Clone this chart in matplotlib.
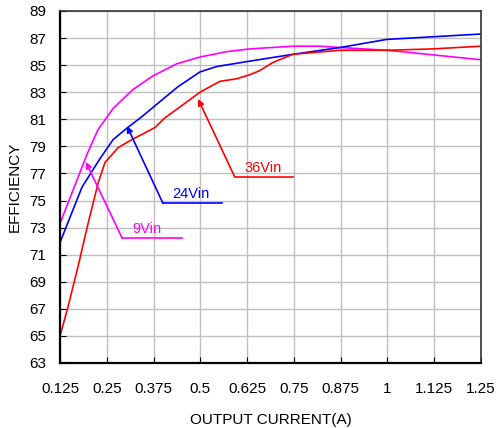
import numpy as np
import matplotlib
matplotlib.use('Agg')
import matplotlib.pyplot as plt

plt.rcParams['font.family'] = ['Liberation Sans', 'DejaVu Sans']

# 9Vin
x9 = [0.125, 0.197, 0.226, 0.245, 0.267, 0.320, 0.373, 0.437, 0.499, 0.571, 0.633, 0.747, 0.819, 0.875, 1.0, 1.25]
y9 = [73.3, 78.4, 80.2, 80.95, 81.8, 83.2, 84.2, 85.1, 85.6, 86.0, 86.2, 86.4, 86.4, 86.3, 86.1, 85.4]

# 24Vin
x24 = [0.125, 0.184, 0.232, 0.267, 0.304, 0.344, 0.405, 0.440, 0.499, 0.544, 0.633, 0.747, 0.873, 0.998, 1.25]
y24 = [71.9, 76.0, 78.1, 79.5, 80.35, 81.2, 82.6, 83.4, 84.5, 84.9, 85.3, 85.8, 86.3, 86.9, 87.3]

# 36Vin
x36 = [0.125, 0.146, 0.173, 0.2, 0.227, 0.245, 0.28, 0.317, 0.352, 0.379, 0.405, 0.445, 0.499, 0.552, 0.598, 0.633, 0.659, 0.694, 0.747, 0.873, 1.0, 1.121, 1.25]
y36 = [65.0, 67.1, 70.1, 73.3, 76.3, 77.8, 78.9, 79.5, 80.0, 80.4, 81.1, 81.9, 83.0, 83.8, 84.0, 84.3, 84.6, 85.2, 85.8, 86.1, 86.1, 86.2, 86.4]

xticks = [0.125, 0.25, 0.375, 0.5, 0.625, 0.75, 0.875, 1, 1.125, 1.25]
xtick_labels = ['0.125', '0.25', '0.375', '0.5', '0.625', '0.75', '0.875', '1', '1.125', '1.25']
yticks = list(range(63, 90, 2))

fig = plt.figure(figsize=(4.97, 4.28), dpi=100)
ax = fig.add_axes([0.1207, 0.1519, 0.8471, 0.8224])

ax.plot(x9, y9, color='#ff00ff', linewidth=1.2)
ax.plot(x24, y24, color='#0000ff', linewidth=1.2)
ax.plot(x36, y36, color='#ff0000', linewidth=1.2)

# etiquetas con flecha
etiquetas = [
    ('9Vin', '#ff00ff', (0.194, 77.85), (0.291, 72.23), 0.451, (0.357, 72.9)),
    ('24Vin', '#0000ff', (0.304, 80.5), (0.400, 74.8), 0.558, (0.475, 75.5)),
    ('36Vin', '#ff0000', (0.494, 82.5), (0.592, 76.74), 0.747, (0.667, 77.4)),
]
for texto, c, punta, esquina, fin, pos in etiquetas:
    ax.plot([esquina[0], fin], [esquina[1], esquina[1]], color=c, linewidth=1.2)
    ax.annotate('', xy=punta, xytext=esquina,
                arrowprops=dict(arrowstyle='-|>', color=c, lw=1.2,
                                mutation_scale=9, shrinkA=0, shrinkB=0))
    ax.text(pos[0], pos[1], texto, color=c, fontsize=10.5, ha='center', va='center')

ax.set_xlim(0.125, 1.25)
ax.set_ylim(63, 89)
ax.set_xticks(xticks)
ax.set_xticklabels(xtick_labels)
ax.set_yticks(yticks)
ax.tick_params(axis='both', labelsize=11, colors='black', direction='in', length=4)
ax.tick_params(axis='x', pad=14)
ax.tick_params(axis='y', pad=10)

ax.grid(True, color='#c0c0c0', linewidth=1)
ax.set_axisbelow(True)
for s in ['left', 'bottom']:
    ax.spines[s].set_linewidth(1.6)
    ax.spines[s].set_color('black')
for s in ['top', 'right']:
    ax.spines[s].set_linewidth(1.2)
    ax.spines[s].set_color('#333333')

ax.set_xlabel('OUTPUT CURRENT(A)', fontsize=11, labelpad=12)
ax.set_ylabel('EFFICIENCY', fontsize=11, labelpad=5)

fig.savefig('out.png', dpi=100)
